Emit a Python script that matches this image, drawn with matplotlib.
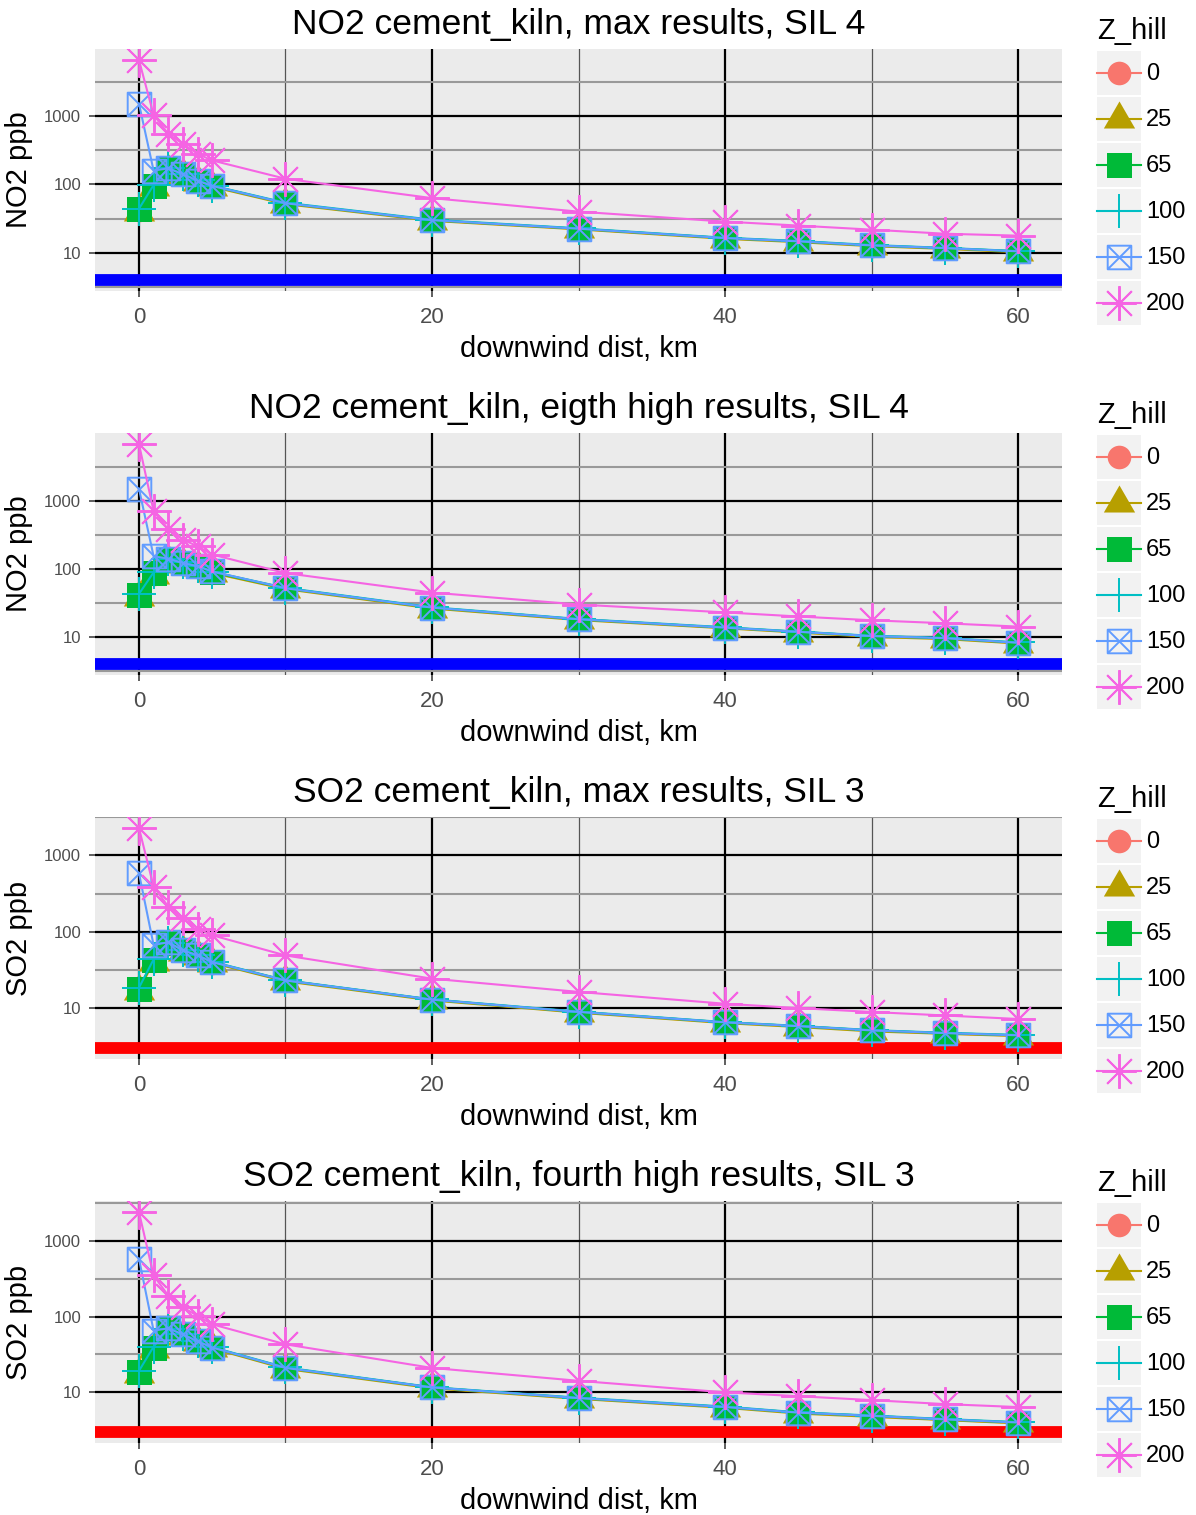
import matplotlib
matplotlib.use("Agg")
import numpy as np
import matplotlib.pyplot as plt
from matplotlib.path import Path
from matplotlib.patches import Rectangle
from matplotlib.lines import Line2D
from matplotlib.legend_handler import HandlerLine2D
from matplotlib.ticker import FixedLocator, NullFormatter, FixedFormatter

plt.rcParams['font.family'] = ['Liberation Sans', 'DejaVu Sans']

# ---------------------------------------------------------------- data
dist_km = [0, 1, 2, 3, 4, 5, 10, 20, 30, 40, 45, 50, 55, 60]
z_hill = ['0', '25', '65', '100', '150', '200']

# NO2, max results
NO2_MAX_Z0 = [42, 94, 164, 140, 112, 94, 52.5, 29.8, 22.3, 16.3, 14.6, 12.7, 11.6, 10.4]
NO2_MAX_Z25 = [40, 91, 158, 137, 110, 92, 51.5, 29.3, 22.0, 16.0, 14.3, 12.5, 11.4, 10.2]
NO2_MAX_Z65 = [43, 95, 168, 141, 113, 95, 53, 30, 22.5, 16.4, 14.7, 12.8, 11.7, 10.5]
NO2_MAX_Z100 = [44, 98, 171, 143, 115, 96, 54, 30.5, 22.8, 16.6, 14.9, 13.0, 11.8, 10.6]
NO2_MAX_Z150 = [1520, 159, 172, 141, 113, 95, 53, 30, 22.5, 16.4, 14.7, 12.8, 11.7, 10.5]
NO2_MAX_Z200 = [6600, 1040, 550, 392, 280, 224, 121, 63, 40, 28.6, 25, 21.8, 19, 17.8]

# NO2, eighth high results
NO2_8TH_Z0 = [41, 85, 134, 121, 108, 89, 51.5, 26.7, 18.0, 13.6, 11.8, 10.2, 9.5, 8.1]
NO2_8TH_Z25 = [39, 82, 130, 118, 106, 87, 50.5, 26.2, 17.7, 13.4, 11.6, 10.0, 9.3, 8.0]
NO2_8TH_Z65 = [42, 87, 137, 123, 110, 90, 52, 27, 18.2, 13.7, 11.9, 10.3, 9.6, 8.2]
NO2_8TH_Z100 = [43, 89, 140, 125, 111, 91, 52.8, 27.4, 18.4, 13.9, 12.0, 10.4, 9.7, 8.3]
NO2_8TH_Z150 = [1520, 154, 142, 122, 110, 92, 52, 27, 18.2, 13.7, 11.9, 10.3, 9.6, 8.2]
NO2_8TH_Z200 = [6900, 710, 382, 270, 216, 163, 87, 45, 30, 23, 20, 17.6, 15.9, 14.2]

# SO2, max results
SO2_MAX_Z0 = [17.8, 42, 70, 56, 48.5, 39.5, 22.8, 12.8, 8.8, 6.45, 5.75, 5.05, 4.65, 4.35]
SO2_MAX_Z25 = [17.0, 40.5, 68, 55, 47.5, 39, 22.4, 12.6, 8.7, 6.35, 5.65, 4.95, 4.6, 4.3]
SO2_MAX_Z65 = [18, 42.6, 71, 57, 49, 40, 23, 12.9, 8.9, 6.5, 5.8, 5.1, 4.7, 4.4]
SO2_MAX_Z100 = [18.5, 43.5, 72, 57.5, 49.5, 40.5, 23.2, 13.0, 9.0, 6.55, 5.85, 5.15, 4.75, 4.45]
SO2_MAX_Z150 = [585, 67, 73, 57, 49, 40, 23, 12.9, 8.9, 6.5, 5.8, 5.1, 4.7, 4.4]
SO2_MAX_Z200 = [2290, 390, 214, 150, 110, 90, 49, 24.3, 16.3, 11.4, 10, 8.9, 8.0, 7.2]

# SO2, fourth high results
SO2_4TH_Z0 = [18.5, 38.5, 67, 57.5, 46.5, 38.5, 20.8, 11.5, 8.3, 6.35, 5.35, 4.85, 4.35, 3.95]
SO2_4TH_Z25 = [17.6, 37, 65, 56, 45.5, 38, 20.4, 11.3, 8.2, 6.25, 5.25, 4.75, 4.3, 3.9]
SO2_4TH_Z65 = [18.8, 39, 68, 58, 47, 39, 21, 11.6, 8.4, 6.4, 5.4, 4.9, 4.4, 4.0]
SO2_4TH_Z100 = [19.2, 40, 69, 58.5, 47.5, 39.5, 21.3, 11.7, 8.5, 6.5, 5.45, 4.95, 4.45, 4.05]
SO2_4TH_Z150 = [580, 65, 70, 58, 47, 39, 21, 11.6, 8.4, 6.4, 5.4, 4.9, 4.4, 4.0]
SO2_4TH_Z200 = [2390, 348, 189, 132, 102, 79, 43, 21, 14.2, 10, 8.9, 7.9, 7.0, 6.4]

# significant impact levels, ppb
NO2_SIL = 4
SO2_SIL = 3

titles = ["NO2 cement_kiln, max results, SIL 4",
          "NO2 cement_kiln, eigth high results, SIL 4",
          "SO2 cement_kiln, max results, SIL 3",
          "SO2 cement_kiln, fourth high results, SIL 3"]
ylabels = ["NO2 ppb", "NO2 ppb", "SO2 ppb", "SO2 ppb"]
xlabel = "downwind dist, km"
x_ticks = [0, 20, 40, 60]
y_ticks = [10, 100, 1000]
y_tick_labels = ["10", "100", "1000"]

panel_series = [
    [NO2_MAX_Z0, NO2_MAX_Z25, NO2_MAX_Z65, NO2_MAX_Z100, NO2_MAX_Z150, NO2_MAX_Z200],
    [NO2_8TH_Z0, NO2_8TH_Z25, NO2_8TH_Z65, NO2_8TH_Z100, NO2_8TH_Z150, NO2_8TH_Z200],
    [SO2_MAX_Z0, SO2_MAX_Z25, SO2_MAX_Z65, SO2_MAX_Z100, SO2_MAX_Z150, SO2_MAX_Z200],
    [SO2_4TH_Z0, SO2_4TH_Z25, SO2_4TH_Z65, SO2_4TH_Z100, SO2_4TH_Z150, SO2_4TH_Z200],
]
panel_sil = [NO2_SIL, NO2_SIL, SO2_SIL, SO2_SIL]
sil_colors = ['#0000FF', '#0000FF', '#FF0000', '#FF0000']

# ---------------------------------------------------------------- styles
hue = ['#F8766D', '#B79F00', '#00BA38', '#00BFC4', '#619CFF', '#F564E3']

box_x = Path([(-1, -1), (1, -1), (1, 1), (-1, 1), (-1, -1),
              (-1, -1), (1, 1), (-1, 1), (1, -1)],
             [Path.MOVETO, Path.LINETO, Path.LINETO, Path.LINETO, Path.CLOSEPOLY,
              Path.MOVETO, Path.LINETO, Path.MOVETO, Path.LINETO])
tri_up = Path([(-1, -0.577), (1, -0.577), (0, 1.155), (-1, -0.577)],
              [Path.MOVETO, Path.LINETO, Path.LINETO, Path.CLOSEPOLY])

marker_kw = [
    dict(marker='o', markersize=17, markerfacecolor=hue[0], markeredgecolor=hue[0], markeredgewidth=0),
    dict(marker=tri_up, markersize=26, markerfacecolor=hue[1], markeredgecolor=hue[1], markeredgewidth=0),
    dict(marker='s', markersize=18, markerfacecolor=hue[2], markeredgecolor=hue[2], markeredgewidth=0),
    dict(marker='+', markersize=24, markeredgecolor=hue[3], markeredgewidth=1.4),
    dict(marker=box_x, markersize=17, markerfacecolor='none', markeredgecolor=hue[4], markeredgewidth=1.4),
    dict(marker=(8, 2, 0), markersize=25, markeredgecolor=hue[5], markeredgewidth=1.4),
]


class KeyHandler(HandlerLine2D):
    """Legend key drawn on a light grey square, symbol centred in it."""

    def create_artists(self, legend, orig_handle, xdescent, ydescent,
                       width, height, fontsize, trans):
        bg = Rectangle((-xdescent, -ydescent), width, height,
                       facecolor='#F2F2F2', edgecolor='none', transform=trans)
        arts = list(super().create_artists(legend, orig_handle, xdescent, ydescent,
                                           width, height, fontsize, trans))
        yc = height / 2 - ydescent
        for a in arts:
            if isinstance(a, Line2D):
                a.set_ydata(np.full_like(np.asarray(a.get_ydata(), float), yc))
        return [bg] + arts


# ---------------------------------------------------------------- figure
W, H = 1196, 1515
fig = plt.figure(figsize=(W / 100, H / 100), dpi=100)
fig.patch.set_facecolor('white')

ax_left, ax_right = 95, 1062
ax_top0, ax_h, pitch = 49, 242, 384
px_per_pt = 100 / 72

for i in range(4):
    top = ax_top0 + pitch * i
    ax = fig.add_axes([ax_left / W, 1 - (top + ax_h) / H,
                       (ax_right - ax_left) / W, ax_h / H])
    ax.set_facecolor('#EBEBEB')
    for s in ax.spines.values():
        s.set_visible(False)

    handles = []
    for j, vals in enumerate(panel_series[i]):
        ln, = ax.plot(dist_km, vals, color=hue[j], lw=1.5, zorder=3 + j,
                      label=z_hill[j], **marker_kw[j])
        handles.append(ln)

    sil = panel_sil[i]
    ax.axhline(sil, color=sil_colors[i], lw=8.5, zorder=2)

    ax.set_yscale('log')
    all_vals = np.concatenate([np.asarray(v, float) for v in panel_series[i]] + [[sil]])
    lo, hi = np.log10(all_vals.min()), np.log10(all_vals.max())
    pad = 0.05 * (hi - lo)
    ax.set_ylim(10 ** (lo - pad), 10 ** (hi + pad))
    ax.set_xlim(-3, 63)

    ax.yaxis.set_major_locator(FixedLocator(y_ticks))
    ax.yaxis.set_major_formatter(FixedFormatter(y_tick_labels))
    ax.yaxis.set_minor_locator(FixedLocator([10 ** 0.5, 10 ** 1.5, 10 ** 2.5, 10 ** 3.5]))
    ax.yaxis.set_minor_formatter(NullFormatter())
    ax.xaxis.set_major_locator(FixedLocator(x_ticks))
    ax.xaxis.set_minor_locator(FixedLocator([10, 30, 50]))

    ax.tick_params(which='major', length=4, width=1.1, color='#333333')
    ax.tick_params(which='minor', length=0)
    ax.tick_params(axis='x', which='major', labelsize=16, labelcolor='#4D4D4D', pad=7.5)
    ax.tick_params(axis='y', which='major', labelsize=12, labelcolor='#4D4D4D', pad=6)

    ax.set_axisbelow(True)
    ax.grid(which='major', axis='both', color='black', lw=1.6)
    ax.grid(which='minor', axis='y', color='#999999', lw=1.5)
    ax.grid(which='minor', axis='x', color='#555555', lw=0.9)

    ax.set_title(titles[i], fontsize=25.5, color='black', pad=11)
    ax.set_xlabel(xlabel, fontsize=21, color='black')
    ax.xaxis.set_label_coords(0.5, -0.182)
    ax.set_ylabel(ylabels[i], fontsize=21, color='black')
    ax.yaxis.set_label_coords(-0.064, 0.5)

    # legend: 44 px keys on a 46 px pitch
    fs = 17
    fs_px = fs * px_per_pt
    key_px = 44
    hh = (key_px / fs_px - 0.245) / 0.65
    leg = ax.legend(handles=handles, labels=z_hill, loc='upper left',
                    bbox_to_anchor=((1097 - ax_left) / (ax_right - ax_left),
                                    1 + 32 / ax_h),
                    frameon=False, fontsize=fs, title='Z_hill', title_fontsize=21,
                    alignment='left', numpoints=1, borderpad=0, borderaxespad=0,
                    handlelength=key_px / fs_px, handleheight=hh,
                    labelspacing=2 / fs_px, handletextpad=5 / fs_px,
                    handler_map={h: KeyHandler() for h in handles})
    leg._legend_box.sep = 6 / px_per_pt

fig.savefig('out.png', dpi=100, facecolor='white')
